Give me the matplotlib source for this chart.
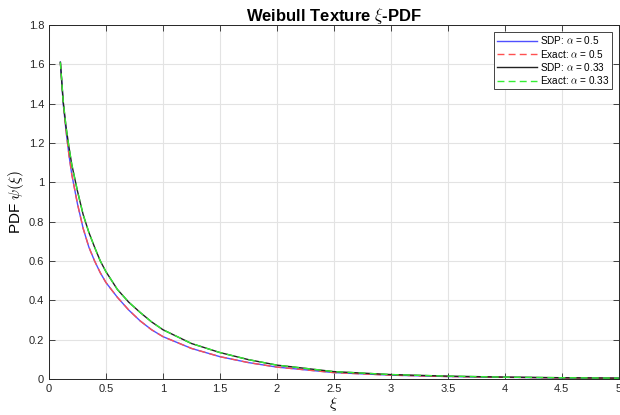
import numpy as np
import matplotlib.pyplot as plt

# values
xi = [0.1, 0.125, 0.15, 0.175, 0.2, 0.25, 0.3, 0.35, 0.4, 0.45, 0.5, 0.6, 0.7,
      0.8, 0.9, 1.0, 1.25, 1.5, 1.75, 2.0, 2.5, 3.0, 3.5, 4.0, 4.5, 5.0]
sdp_05 = [1.61, 1.40, 1.26, 1.14, 1.04, 0.89, 0.765, 0.67, 0.60, 0.54, 0.49,
          0.415, 0.35, 0.295, 0.25, 0.215, 0.155, 0.113, 0.083, 0.060, 0.032,
          0.019, 0.012, 0.008, 0.005, 0.003]
exact_05 = list(sdp_05)
sdp_033 = [1.61, 1.41, 1.28, 1.18, 1.09, 0.955, 0.835, 0.745, 0.67, 0.60, 0.545,
           0.455, 0.39, 0.338, 0.29, 0.25, 0.18, 0.134, 0.098, 0.070, 0.037,
           0.022, 0.014, 0.009, 0.006, 0.004]
exact_033 = list(sdp_033)

plt.rcParams['font.family'] = ['Liberation Sans', 'DejaVu Sans']
plt.rcParams['mathtext.fontset'] = 'cm'

fig = plt.figure(figsize=(6.2, 4.15), dpi=100)
ax = fig.add_axes([0.079, 0.087, 0.919, 0.853])

ax.plot(xi, sdp_05, color='#5050ff', lw=1.0, label=r'SDP: $\alpha$ = 0.5')
ax.plot(xi, exact_05, color='#ff5050', lw=1.0, ls=(0, (5, 3)), label=r'Exact: $\alpha$ = 0.5')
ax.plot(xi, sdp_033, color='#222222', lw=1.0, label=r'SDP: $\alpha$ = 0.33')
ax.plot(xi, exact_033, color='#33ee33', lw=1.0, ls=(0, (5, 3)), label=r'Exact: $\alpha$ = 0.33')

ax.set_xlim(0, 5)
ax.set_ylim(0, 1.8)
ax.set_xticks(np.arange(0, 5.01, 0.5))
ax.set_xticklabels(['0', '0.5', '1', '1.5', '2', '2.5', '3', '3.5', '4', '4.5', '5'])
ax.set_yticks(np.arange(0, 1.81, 0.2))
ax.set_yticklabels(['0', '0.2', '0.4', '0.6', '0.8', '1', '1.2', '1.4', '1.6', '1.8'])
ax.tick_params(direction='in', top=True, right=True, labelsize=8, colors='#262626',
               length=4, width=0.6)
ax.grid(True, color='#e3e3e3', lw=0.8)
for s in ax.spines.values():
    s.set_color('#262626')
    s.set_linewidth(0.7)

ax.set_title(r'Weibull Texture $\xi$-PDF', fontsize=12, fontweight='bold', pad=3)
ax.set_xlabel(r'$\xi$', fontsize=11, labelpad=1)
ax.set_ylabel(r'PDF $\psi(\xi)$', fontsize=11, labelpad=2)

leg = ax.legend(loc='upper right', fontsize=7.2, handlelength=4.0, handletextpad=0.3,
                borderpad=0.25, labelspacing=0.12, fancybox=False, framealpha=1,
                edgecolor='#262626', borderaxespad=0.7)
leg.get_frame().set_linewidth(0.6)

fig.savefig('out.png', dpi=100)
